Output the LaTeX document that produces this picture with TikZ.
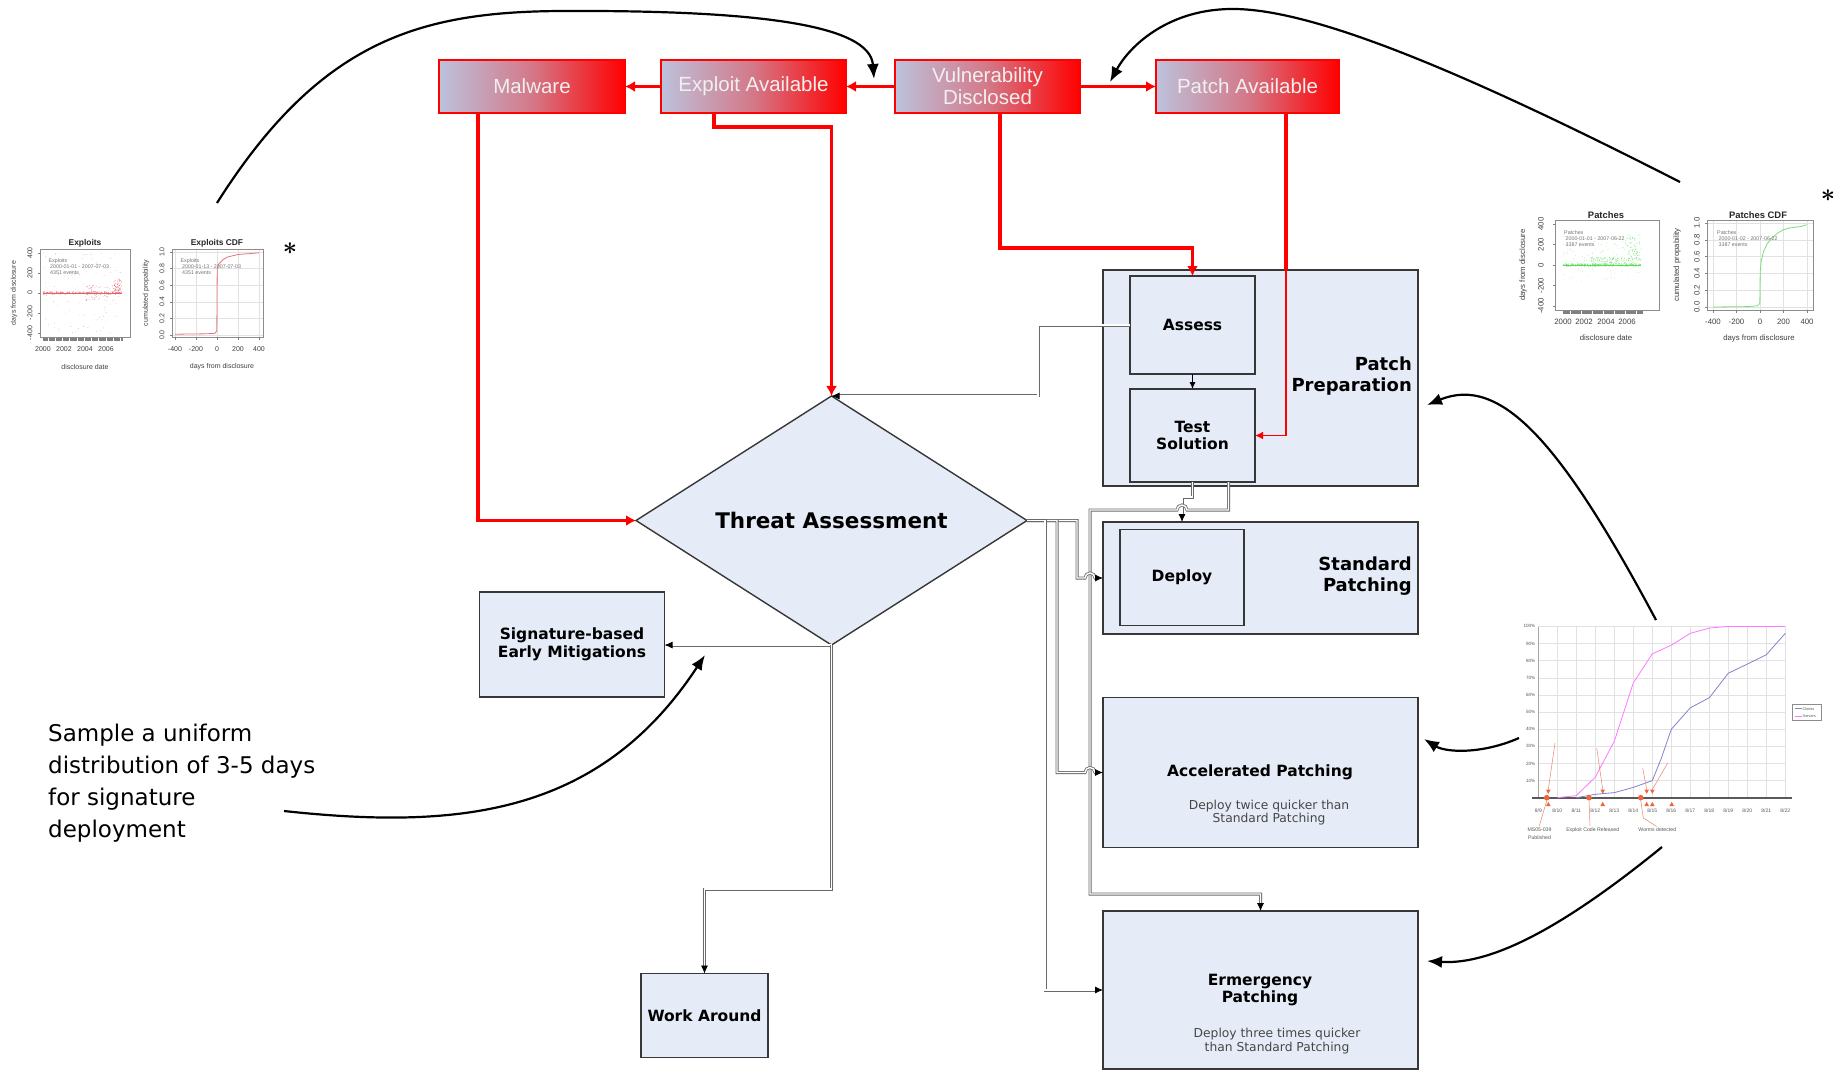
\documentclass[tikz,border=0pt]{standalone}
\usepackage{fontspec}
\setmainfont{Liberation Sans}
\newfontfamily\dvs{DejaVu Sans}
\usetikzlibrary{arrows.meta,shapes.geometric,calc}
\definecolor{boxfill}{RGB}{230,236,247}
\definecolor{redlb}{RGB}{188,194,220}
\definecolor{redmid}{RGB}{212,120,136}
\definecolor{edgegrey}{RGB}{55,55,55}
\definecolor{conngrey}{RGB}{105,105,105}
\definecolor{servcol}{RGB}{255,120,255}
\definecolor{clientcol}{RGB}{130,130,205}
\definecolor{markor}{RGB}{240,100,60}
\definecolor{annot}{RGB}{235,130,110}
\definecolor{exred}{RGB}{215,60,70}
\definecolor{pgreen}{RGB}{60,210,60}
\definecolor{subgrey}{RGB}{70,70,70}
\definecolor{gridgrey}{RGB}{226,226,226}
\tikzset{
  redbox/.style={draw=red, line width=2pt, left color=redlb, right color=red, middle color=redmid,
    minimum width=185pt, minimum height=53pt, inner sep=0pt, outer sep=0pt,
    text=white!94!black, align=center, font=\fontsize{20.5}{22}\selectfont},
  redflow/.style={draw=red, line width=3.5pt, -{Latex[length=10pt,width=11pt]}},
  procbox/.style={draw=edgegrey, line width=1.6pt, fill=boxfill, inner sep=0pt, outer sep=0pt, align=center,
    font=\dvs\bfseries\fontsize{15.5}{17.5}\selectfont},
  boxtext/.style={inner sep=0pt, align=center, font=\dvs\bfseries\fontsize{15.5}{16.5}\selectfont},
  biglabel/.style={anchor=east, align=right, inner sep=0pt, font=\dvs\bfseries\fontsize{18}{21}\selectfont},
  subtext/.style={align=center, inner sep=0pt, text=subgrey, font=\dvs\fontsize{12.3}{13.5}\selectfont},
  conn/.style={draw=conngrey, line width=0.8pt, double=white, double distance=1.4pt, -{Latex[length=8pt,width=7pt,black]}},
  thinarrow/.style={draw=black, line width=0.9pt, -{Latex[length=7pt,width=6pt]}},
  callout/.style={draw=black, line width=2.2pt, -{Latex[length=15pt,width=12pt]}},
  ctitle/.style={inner sep=0pt, font=\bfseries\fontsize{8.4}{9}\selectfont, text=black!85},
  clab/.style={inner sep=0pt, font=\fontsize{7}{8}\selectfont, text=black!75},
  ctitleb/.style={inner sep=0pt, font=\bfseries\fontsize{9.4}{10}\selectfont, text=black!85},
  clabb/.style={inner sep=0pt, font=\fontsize{7.8}{8.5}\selectfont, text=black!75},
  cleg/.style={inner sep=0pt, anchor=west, align=left, font=\fontsize{5.3}{6}\selectfont, text=black!55},
  cmini/.style={inner sep=0pt, font=\fontsize{4.6}{5}\selectfont, text=black!65},
  starmark/.style={inner sep=0pt, font=\fontsize{50}{50}\selectfont\boldmath}
}
\begin{document}
\begin{tikzpicture}[x=1pt,y=-1pt]
\useasboundingbox[fill=white] (0,0) rectangle (1842,1072);

% ---------- red event boxes ----------
\node[redbox, minimum width=186pt] (mal) at (532,86.5) {Malware};
\node[redbox] (exp) at (753.5,86.5) {Exploit Available};
\node[redbox] (vul) at (987.5,86.5) {Vulnerability\\Disclosed};
\node[redbox, minimum width=183pt] (pat) at (1247.5,86.5) {Patch Available};

% ---------- process boxes ----------
\node[procbox, minimum width=315pt, minimum height=216pt] (pp) at (1260.5,378) {};
\node[procbox, minimum width=125pt, minimum height=98pt] (as) at (1192.5,325) {Assess};
\node[procbox, minimum width=125pt, minimum height=93pt] (ts) at (1192.5,435.5) {Test\\Solution};
\node[biglabel] (pplab) at (1412,376) {Patch\\Preparation};

\node[procbox, minimum width=315pt, minimum height=112pt] (sp) at (1260.5,578) {};
\node[procbox, minimum width=124pt, minimum height=96pt] (dp) at (1182,577.5) {Deploy};
\node[biglabel] (splab) at (1412,576) {Standard\\Patching};

\node[procbox, minimum width=315pt, minimum height=150pt] (ap) at (1260.5,772.5) {};
\node[boxtext] (aplab) at (1260,772) {Accelerated Patching};
\node[subtext] (apsub) at (1269,812.5) {Deploy twice quicker than\\Standard Patching};

\node[procbox, minimum width=315pt, minimum height=158pt] (ep) at (1260.5,990) {};
\node[boxtext] (eplab) at (1260,990) {Ermergency\\Patching};
\node[subtext] (epsub) at (1277,1041) {Deploy three times quicker\\than Standard Patching};

\node[procbox, minimum width=185pt, minimum height=105pt] (sig) at (572,644.5) {Signature-based\\Early Mitigations};
\node[procbox, minimum width=127pt, minimum height=84pt] (wa) at (704.5,1015.5) {Work Around};

\node[diamond, draw=edgegrey, line width=1.4pt, fill=boxfill, minimum width=391pt, minimum height=249pt,
      inner sep=0pt, outer sep=0pt, font=\dvs\bfseries\fontsize{21.5}{24}\selectfont] (ta) at (831.5,520.5) {Threat Assessment};

% ---------- red flows ----------
\draw[redflow] (exp.west) -- (mal.east);
\draw[redflow] (vul.west) -- (exp.east);
\draw[redflow] (vul.east) -- (pat.west);
\draw[redflow] ($(mal.south west)+(39,0)$) |- (ta.west);
\draw[redflow] ($(exp.south west)+(53,0)$) -- ++(0,14) -| (ta.north);
\draw[redflow] ($(vul.south)+(12.5,0)$) -- ++(0,135) -| (as.north);
\coordinate (patdrop) at ($(pat.south)+(38.5,0)$);
\coordinate (patin) at (patdrop |- pp.north);
\draw[red, line width=3.5pt] (patdrop) -- (patin);
\draw[red, line width=1.6pt, -{Latex[length=8pt,width=8pt]}] (patin) |- (ts.east);

% ---------- grey connectors ----------
\draw[conn] (as.west) -- ++(-92,0) |- (ta.north);
\draw[thinarrow] (as.south) -- (ts.north);
\draw[conn] (ts.south) -- ++(0,15) -| (sp.north -| dp.north);
\draw[conn] ($(ts.south)+(36,0)$) -- ++(0,28) -- (1187,510) arc[start angle=0,end angle=180,radius=5pt] -- (1090,510) -- (1090,894) -| (ep.north);
\draw[conn] (ta.east) -- ++(50,0) |- (1085,578) arc[start angle=180,end angle=0,radius=5pt] -- (sp.west);
\draw[conn] (ta.east) -- ++(30,0) |- (1085,772.5) arc[start angle=180,end angle=0,radius=5pt] -- (ap.west);
\draw[conn] (ta.east) -- ++(18,0) |- (ep.west);
\draw[conn] (ta.south) -- (sig.east |- ta.south);
\draw[conn] (ta.south) -- ++(0,244) -| (wa.north);

% ---------- left note ----------
\node[anchor=north west, align=left, inner sep=0pt, font=\dvs\fontsize{23}{32}\selectfont] (samp) at (48,724)
  {Sample a uniform\\distribution of 3-5 days\\for signature\\deployment};

% ---------- Exploits scatter ----------
\draw[black!45, line width=0.6pt] (40,249) rectangle (130,337);
\pgfmathsetseed{11}
\foreach \k in {1,...,220} {\pgfmathsetmacro\px{43+79*rnd}\pgfmathsetmacro\py{293+2.4*(rnd-0.5)}\fill[exred!70] (\px,\py) circle (0.45pt);}
\foreach \k in {1,...,110} {\pgfmathsetmacro\px{43+79*rnd}\pgfmathsetmacro\py{293+80*(rnd-0.5)}\fill[exred!45] (\px,\py) circle (0.4pt);}
\foreach \k in {1,...,60} {\pgfmathsetmacro\px{86+22*rnd}\pgfmathsetmacro\py{293+16*(rnd-0.5)}\fill[exred!60] (\px,\py) circle (0.4pt);}
\foreach \k in {1,...,50} {\pgfmathsetmacro\px{112+10*rnd}\pgfmathsetmacro\py{293-14*rnd}\fill[exred!75] (\px,\py) circle (0.45pt);}
\draw[exred!80, line width=0.8pt] (43,293) -- (122,293);
\foreach \k in {0,...,68} {\draw[black!50, line width=0.35pt] ({43+\k*1.16},337.5) -- ++(0,3.5);}
\foreach \yy in {253,273,293,313,333} {\draw[black!50,line width=0.4pt] (40,\yy) -- ++(-2.5,0);}
\node[ctitle] (extitle) at (85,243.5) {Exploits};
\node[clab, rotate=90] (exylab) at (14,293) {days from disclosure};
\foreach \v/\yy [count=\k] in {400/253,200/273,0/293,-200/313,-400/333} {\node[clab, rotate=90] (exyl\k) at (30,\yy) {\v};}
\foreach \v/\xx [count=\k] in {2000/43,2002/64,2004/85,2006/106} {\node[clab] (exxl\k) at (\xx,349.5) {\v};}
\node[clab] (exxlab) at (85,367) {disclosure date};
\node[cleg] (exleg) at (48.5,267) {Exploits\\\ 2000-01-01 - 2007-07-03\\\ 4351 events};

% ---------- Exploits CDF ----------
\foreach \xx in {175,196,217,238,259} {\draw[gridgrey, line width=0.5pt] (\xx,249) -- (\xx,337);}
\foreach \yy in {252,268.6,285.2,301.8,318.4,335} {\draw[gridgrey, line width=0.5pt] (172,\yy) -- (263,\yy);}
\draw[black!45, line width=0.6pt] (172,249) rectangle (263,337);
\draw[exred!70, line width=0.8pt] plot coordinates {(175,334.2) (206.5,333.8) (214.9,333.3) (216.8,330.9) (217.2,268.6) (219.1,263.6) (223.3,259.5) (227.5,257) (238,254.5) (248.5,253.7) (259,252.8)};
\node[ctitle] (cdftitle) at (217,243.5) {Exploits CDF};
\node[clab, rotate=90] (cdfylab) at (146,293) {cumulated propability};
\foreach \v/\yy [count=\k] in {1.0/252,0.8/268.6,0.6/285.2,0.4/301.8,0.2/318.4,0.0/335} {\node[clab, rotate=90] (cdfyl\k) at (162,\yy) {\v}; \draw[black!50,line width=0.4pt] (172,\yy) -- ++(-2.5,0);}
\foreach \v/\xx [count=\k] in {-400/175,-200/196,0/217,200/238,400/259} {\node[clab] (cdfxl\k) at (\xx,349.5) {\v}; \draw[black!50,line width=0.4pt] (\xx,337) -- ++(0,2.5);}
\node[clab] (cdfxlab) at (222,367) {days from disclosure};
\node[cleg] (cdfleg) at (180.5,267) {Exploits\\\ 2000-01-13 - 2007-07-03\\\ 4351 events};
\node[starmark] (star1) at (290,249) {$\ast$};

% ---------- Patches scatter ----------
\draw[black!45, line width=0.6pt] (1555,220) rectangle (1659,310);
\pgfmathsetseed{23}
\foreach \k in {1,...,200} {\pgfmathsetmacro\px{1563+78*rnd}\pgfmathsetmacro\py{265+2.4*(rnd-0.5)}\fill[pgreen!75] (\px,\py) circle (0.45pt);}
\foreach \k in {1,...,140} {\pgfmathsetmacro\px{1563+78*rnd}\pgfmathsetmacro\py{265-36*rnd*rnd}\fill[pgreen!50] (\px,\py) circle (0.4pt);}
\foreach \k in {1,...,40} {\pgfmathsetmacro\px{1563+78*rnd}\pgfmathsetmacro\py{265+22*rnd*rnd}\fill[pgreen!40] (\px,\py) circle (0.4pt);}
\foreach \k in {1,...,70} {\pgfmathsetmacro\px{1625+16*rnd}\pgfmathsetmacro\py{265-30*rnd}\fill[pgreen!70] (\px,\py) circle (0.45pt);}
\foreach \k in {1,...,80} {\pgfmathsetmacro\px{1590+35*rnd}\pgfmathsetmacro\py{265-8*rnd}\fill[pgreen!70] (\px,\py) circle (0.45pt);}
\draw[pgreen!85, line width=0.8pt] (1563,265) -- (1641,265);
\foreach \k in {0,...,72} {\draw[black!50, line width=0.35pt] ({1563+\k*1.1},310.5) -- ++(0,3.5);}
\foreach \yy in {224,244.5,265,285.5,306} {\draw[black!50,line width=0.4pt] (1555,\yy) -- ++(-2.5,0);}
\node[ctitleb] (pttitle) at (1606,215) {Patches};
\node[clabb, rotate=90] (ptylab) at (1523,265) {days from disclosure};
\foreach \v/\yy [count=\k] in {400/224,200/244.5,0/265,-200/285.5,-400/306} {\node[clabb, rotate=90] (ptyl\k) at (1541,\yy) {\v};}
\foreach \v/\xx [count=\k] in {2000/1563,2002/1584,2004/1606,2006/1627} {\node[clabb] (ptxl\k) at (\xx,322) {\v};}
\node[clabb] (ptxlab) at (1606,338) {disclosure date};
\node[cleg] (ptleg) at (1564,239) {Patches\\\ 2000-01-01 - 2007-06-22\\\ 3387 events};

% ---------- Patches CDF ----------
\foreach \xx in {1713,1736.5,1760,1783.5,1807} {\draw[gridgrey, line width=0.5pt] (\xx,220) -- (\xx,310);}
\foreach \yy in {223,239.8,256.6,273.4,290.2,307} {\draw[gridgrey, line width=0.5pt] (1707,\yy) -- (1813,\yy);}
\draw[black!45, line width=0.6pt] (1707,220) rectangle (1813,310);
\draw[pgreen!70, line width=0.8pt] plot coordinates {(1713,307) (1748.25,306.6) (1757.65,305.7) (1759.8,303.6) (1760.2,271.7) (1761.2,260.8) (1763.5,251.6) (1767.05,244) (1771.75,238.1) (1777.6,233.1) (1783.5,229.7) (1789.4,228) (1795.25,227.2) (1801.1,226.4) (1807,224.7)};
\node[ctitleb] (pctitle) at (1758,215) {Patches CDF};
\node[clabb, rotate=90] (pcylab) at (1677,265) {cumulated propability};
\foreach \v/\yy [count=\k] in {1.0/223,0.8/239.8,0.6/256.6,0.4/273.4,0.2/290.2,0.0/307} {\node[clabb, rotate=90] (pcyl\k) at (1697,\yy) {\v}; \draw[black!50,line width=0.4pt] (1707,\yy) -- ++(-2.5,0);}
\foreach \v/\xx [count=\k] in {-400/1713,-200/1736.5,0/1760,200/1783.5,400/1807} {\node[clabb] (pcxl\k) at (\xx,322) {\v}; \draw[black!50,line width=0.4pt] (\xx,310) -- ++(0,2.5);}
\node[clabb] (pcxlab) at (1759,338) {days from disclosure};
\node[cleg] (pcleg) at (1717,239) {Patches\\\ 2000-01-02 - 2007-06-22\\\ 3387 events};
\node[starmark] (star2) at (1828,196) {$\ast$};

% ---------- deployment line chart ----------
\foreach \i in {0,...,13} {\draw[gridgrey, line width=0.5pt] ({1538.3+19*\i},627) -- ({1538.3+19*\i},797.7);}
\foreach \p in {1,...,10} {\draw[gridgrey, line width=0.5pt] (1538.3,{797.7-17.13*\p}) -- (1785.3,{797.7-17.13*\p});}
\draw[black!35, line width=0.6pt] (1538.3,627) -- (1538.3,797.7);
\foreach \p in {1,...,10} {\pgfmathtruncatemacro\pc{10*\p}\node[cmini, anchor=east] (lcy\p) at (1535.5,{797.7-17.13*\p}) {\pc\%};}
\foreach \i in {0,...,13} {\pgfmathtruncatemacro\dd{9+\i}\node[cmini, font=\fontsize{5}{5}\selectfont] (lcx\i) at ({1538.3+19*\i},811) {8/\dd};}
\draw[black!65, line width=1.8pt] (1532,797.7) -- (1792,797.7);
\draw[servcol, line width=0.8pt] plot coordinates {(1557.3,797.7) (1576.3,795.6) (1595.3,777.1) (1614.3,741.2) (1633.3,682.9) (1652.3,653.8) (1671.3,645.2) (1690.3,633.3) (1709.3,628.1) (1728.3,626.4) (1785.3,626.4)};
\draw[clientcol, line width=0.8pt] plot coordinates {(1576.3,797.7) (1595.3,794.3) (1614.3,792.6) (1633.3,787.4) (1652.3,780.6) (1661.3,758.3) (1671.3,729.2) (1690.3,707.8) (1709.3,697.7) (1728.3,673.2) (1747.3,664.1) (1766.3,654.7) (1785.3,633.3)};
\draw[black!45, line width=0.5pt, fill=white] (1792.3,704.3) rectangle (1821.5,720);
\draw[clientcol, line width=0.7pt] (1794.5,708.7) -- (1801.5,708.7);
\draw[servcol, line width=0.7pt] (1794.5,716) -- (1801.5,716);
\node[cmini, anchor=west, font=\fontsize{3.8}{4}\selectfont] (lgc) at (1802.5,708.7) {Clients};
\node[cmini, anchor=west, font=\fontsize{3.8}{4}\selectfont] (lgs) at (1802.5,716) {Servers};
\draw[annot, line width=0.5pt] (1548.3,789.5) -- (1555,743);
\draw[annot, line width=0.5pt] (1602.7,789.5) -- (1596.7,748);
\draw[annot, line width=0.5pt] (1646.7,789.5) -- (1642.7,768);
\draw[annot, line width=0.5pt] (1652.3,789.5) -- (1667.7,763);
\draw[annot, line width=0.5pt] (1546.7,800.5) -- (1539.3,826);
\draw[annot, line width=0.5pt] (1589,800.5) -- (1590,826);
\draw[annot, line width=0.5pt] (1640.7,800.5) -- (1643.3,818) -- (1656.7,826.5);
\foreach \xx in {1546.7,1589,1640.7} {\fill[markor] (\xx,797.7) circle (2.8pt);}
\foreach \xx in {1548.3,1602.7,1646.7,1652.3,1671.7} {\fill[markor] ({\xx-2.3},806) -- ({\xx+2.3},806) -- (\xx,801.8) -- cycle;}
\foreach \xx in {1548.3,1602.7,1646.7,1652.3} {\fill[markor] ({\xx-2.3},789.5) -- ({\xx+2.3},789.5) -- (\xx,793.8) -- cycle;}
\node[cmini, align=center, font=\fontsize{5.2}{7.3}\selectfont] (lms) at (1539.5,833.7) {MS05-039\\Published};
\node[cmini, font=\fontsize{5.2}{6}\selectfont] (lec) at (1592.7,830) {Exploit Code Released};
\node[cmini, font=\fontsize{5.2}{6}\selectfont] (lwd) at (1657.3,830) {Worms detected};

% ---------- black callout arrows ----------
\coordinate (c1s) at (217,203);
\coordinate (c1e) at (874,79);
\draw[callout] (c1s) .. controls (320,40) and (420,12) .. (560,11) .. controls (760,10) and (870,25) .. (c1e);
\coordinate (c2s) at (1680,182);
\coordinate (c2e) at (1110,82);
\draw[callout] (c2s) .. controls (1480,80) and (1320,10) .. (1235,9) .. controls (1170,8) and (1130,45) .. (c2e);
\coordinate (c3s) at (1656,620);
\coordinate (c3e) at (1427,405);
\draw[callout] (c3s) .. controls (1560,440) and (1500,375) .. (c3e);
\coordinate (c4s) at (1519,738);
\coordinate (c4e) at (1424,739);
\draw[callout] (c4s) .. controls (1480,755) and (1445,752) .. (c4e);
\coordinate (c5s) at (1662,847);
\coordinate (c5e) at (1427,961);
\draw[callout] (c5s) .. controls (1560,930) and (1490,965) .. (c5e);
\coordinate (c6s) at (284,811);
\coordinate (c6e) at (705,655);
\draw[callout] (c6s) .. controls (460,830) and (600,815) .. (c6e);
\end{tikzpicture}
\end{document}
